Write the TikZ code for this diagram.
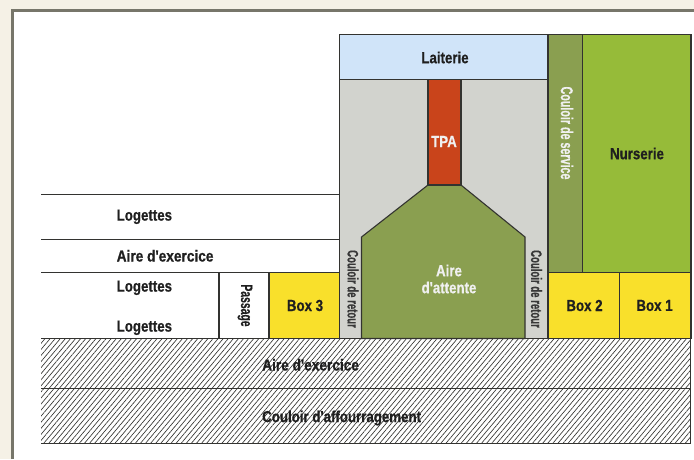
\documentclass[tikz,border=0pt]{standalone}
\usepackage{fontspec}
\setmainfont[Ligatures=TeXOff,FakeStretch=0.83,BoldFeatures={FakeBold=0.6}]{Liberation Sans}
\newfontfamily\vfont[Ligatures=TeXOff,FakeStretch=0.63,BoldFeatures={FakeBold=0.4}]{Liberation Sans}
\usetikzlibrary{patterns.meta}
\definecolor{cream}{HTML}{F5F1E6}
\definecolor{framec}{HTML}{77766A}
\definecolor{inkc}{HTML}{333330}
\definecolor{bluec}{HTML}{D0E4F9}
\definecolor{greyc}{HTML}{D2D3CE}
\definecolor{redc}{HTML}{C9441B}
\definecolor{olivec}{HTML}{8A9F50}
\definecolor{greenc}{HTML}{96BB39}
\definecolor{yellowc}{HTML}{F9E02B}
\tikzset{
  x=1pt,y=-1pt,
  room/.style={draw=inkc,line width=1.1pt},
  wall/.style={draw=inkc,line width=1.1pt},
  hatched/.style={pattern={Lines[angle=50,distance=3.9pt,line width=0.65pt]},pattern color=inkc},
  lab/.style={font=\bfseries\fontsize{16}{18}\selectfont,text=black!88,inner sep=0pt,align=center},
  labw/.style={lab,text=white!94!black},
  vlab/.style={font=\vfont\bfseries\fontsize{15.2}{17}\selectfont,inner sep=0pt,rotate=-90},
}
\begin{document}
\begin{tikzpicture}
\useasboundingbox (0,0) rectangle (694,459);
\fill[cream] (0,0) rectangle (694,459);
\fill[white] (12.5,10.5) rectangle (694,459);
\draw[framec,line width=2.2pt] (12.5,459) -- (12.5,10.5) -- (694,10.5);
% Hatched floors
\path[hatched] (41,338.5) rectangle (690.5,443.5);
\coordinate (h1a) at (41,338.5); \coordinate (h1b) at (690.5,338.5);
\coordinate (h2a) at (41,388.5); \coordinate (h2b) at (690.5,388.5);
\coordinate (h3a) at (41,443.5); \coordinate (h3b) at (690.5,443.5);
\draw[wall] (h1a) -- (h1b);
\draw[wall] (h2a) -- (h2b);
\draw[wall] (h3a) -- (h3b) -- (h1b);
\coordinate (l1a) at (41,194.5); \coordinate (l1b) at (339,194.5);
\coordinate (l2a) at (41,239.5); \coordinate (l2b) at (339,239.5);
\coordinate (l3a) at (41,272.5); \coordinate (l3b) at (218,272.5);
\draw[wall] (l1a) -- (l1b);
\draw[wall] (l2a) -- (l2b);
\draw[wall] (l3a) -- (l3b);
% Rooms
\path[room,fill=greyc] (339.5,79.5) rectangle (548,338.5);
\path[room,fill=bluec] (339.5,34.5) rectangle (548,79.5);
\path[room,fill=olivec] (361.5,338.5) -- (361.5,237) -- (428,185) -- (461,185) -- (525,237) -- (525,338.5) -- cycle;
\path[room,fill=redc] (428,79.5) rectangle (461,185);
\path[room,fill=olivec] (548,34.5) rectangle (582.5,272.5);
\path[room,fill=greenc] (582.5,34.5) rectangle (691,272.5);
\path[room,fill=white] (219,272.5) rectangle (269,338.5);
\path[room,fill=yellowc] (269,272.5) rectangle (339.5,338.5);
\path[room,fill=yellowc] (548,272.5) rectangle (619.5,338.5);
\path[room,fill=yellowc] (619.5,272.5) rectangle (691,338.5);
% Labels
\node[lab] (laiterie) at (445,57.5) {Laiterie};
\node[labw] (tpa) at (444,141.5) {TPA};
\node[lab] (nurserie) at (637,153.5) {Nurserie};
\node[vlab,font=\vfont\bfseries\fontsize{17}{19}\selectfont,text=white!94!black] (service) at (567,133) {Couloir de service};
\node[labw,align=center] (attente) at (449,279) {Aire\\[-1pt]d'attente};
\node[vlab,text=black!78] (ret1) at (353,289) {Couloir de retour};
\node[vlab,text=black!78] (ret2) at (536.5,289) {Couloir de retour};
\node[lab] (box1) at (654.5,305.5) {Box 1};
\node[lab] (box2) at (584.5,305.5) {Box 2};
\node[lab] (box3) at (305,305.5) {Box 3};
\node[vlab,font=\vfont\bfseries\fontsize{16.5}{18}\selectfont,text=black!88] (passage) at (245,305.5) {Passage};
\node[lab,anchor=west] (log1) at (116.5,216.8) {Logettes};
\node[lab,anchor=west,xscale=1.03] (aex1) at (116.5,255.8) {Aire d'exercice};
\node[lab,anchor=west] (log2) at (116.5,287.8) {Logettes};
\node[lab,anchor=west] (log3) at (116.5,327.8) {Logettes};
\node[lab,anchor=west,xscale=1.03] (aex2) at (262,364.8) {Aire d'exercice};
\node[lab,anchor=west] (aff) at (262,418) {Couloir d'affourragement};
\end{tikzpicture}
\end{document}
